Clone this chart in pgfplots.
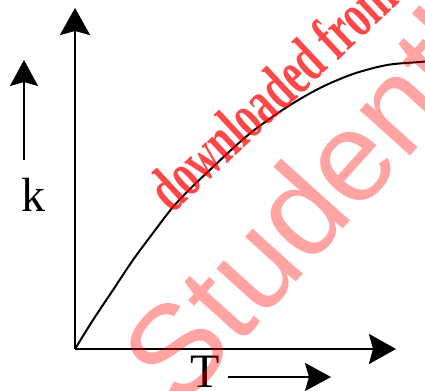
\documentclass[border=0pt]{standalone}
\usepackage{pgfplots}
\pgfplotsset{compat=1.18}
\usepackage{fontspec}
\setmainfont{Liberation Serif}
\newfontfamily\wmsans{Liberation Sans}
\newfontfamily\wmserif[FakeStretch=0.65]{Liberation Serif}
\usetikzlibrary{arrows.meta}

\begin{document}
\begin{tikzpicture}
\useasboundingbox (0,0) rectangle (212.5pt,195.5pt);
\clip (0,0) rectangle (212.5pt,195.5pt);
\begin{axis}[
  at={(0,0)}, anchor=south west,
  scale only axis, width=212.5pt, height=195.5pt,
  xmin=0, xmax=425, ymin=0, ymax=391,
  hide axis, clip=false,
]
% axes
\draw[line width=1.3pt, -{Stealth[length=13.5pt,width=15pt,inset=2pt]}]
  (axis cs:75,42) -- (axis cs:75,383);
\draw[line width=1.3pt, -{Stealth[length=13.5pt,width=15pt,inset=2pt]}]
  (axis cs:75,42) -- (axis cs:396,42);
% k(T) curve
\addplot[black, line width=1pt, smooth] coordinates {
  (75,42) (93,71) (113,101) (133,131) (153,158) (173,184) (193,205)
  (213,224) (230,240) (253,260) (287,284) (320,303) (353,317)
  (387,326) (420,329) (430,330)
};
% labels with arrows
\draw[line width=1.1pt, -{Stealth[length=13pt,width=14pt,inset=2pt]}]
  (axis cs:24,231) -- (axis cs:24,331);
\node[anchor=base, font=\fontsize{24}{26}\selectfont] at (axis cs:33,179) {k};
\node[anchor=base, font=\fontsize{24}{26}\selectfont] at (axis cs:205,3) {T};
\draw[line width=1.1pt, -{Stealth[length=13pt,width=14pt,inset=2pt]}]
  (axis cs:228,14) -- (axis cs:331,14);
% watermark
\node[anchor=base west, rotate=43, text=red, opacity=0.72, inner sep=0pt,
  font=\wmserif\bfseries\fontsize{32}{34}\selectfont] at (axis cs:172,176) {downloaded from};
\node[anchor=base west, rotate=48, text=red, opacity=0.36, inner sep=0pt,
  font=\wmsans\fontsize{64}{66}\selectfont] at (axis cs:180,-20) {Studentbro};
\end{axis}
\end{tikzpicture}
\end{document}
